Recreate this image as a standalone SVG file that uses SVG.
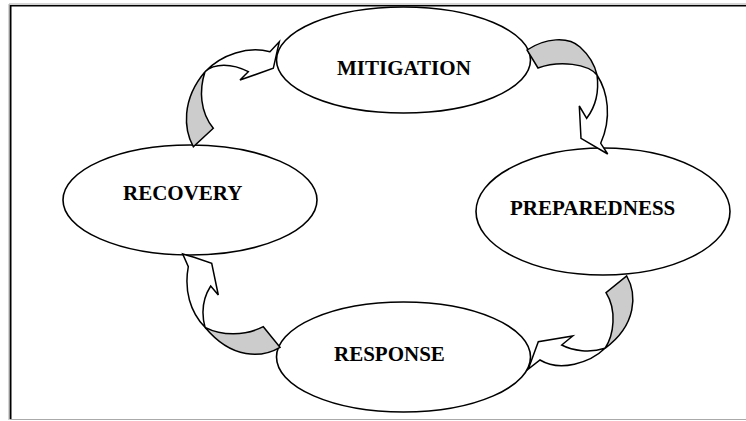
<svg xmlns="http://www.w3.org/2000/svg" width="746" height="421" viewBox="0 0 746 421">
<style>
.node ellipse{fill:#fff;stroke:#000;stroke-width:1.6}
.node text{font-family:"Liberation Serif","Times New Roman",serif;font-weight:bold;font-size:21px;fill:#000}
.gray{fill:#cccccc;stroke:#000;stroke-width:1.5;stroke-linejoin:miter}
.white{fill:#fff;stroke:#000;stroke-width:1.5;stroke-linejoin:miter}
</style>
<g id="frame">
<line x1="9" y1="4" x2="746" y2="4" stroke="#aaa" stroke-width="1"/>
<line x1="9" y1="4" x2="9" y2="420" stroke="#aaa" stroke-width="1"/>
<line x1="10" y1="5.8" x2="746" y2="5.8" stroke="#000" stroke-width="1.6"/>
<line x1="10.6" y1="5" x2="10.6" y2="419" stroke="#000" stroke-width="1.8"/>
<line x1="10" y1="419.5" x2="746" y2="419.5" stroke="#aaa" stroke-width="1"/>
</g>
<g id="mitigation" class="node">
<ellipse cx="403.5" cy="60" rx="127" ry="53"/>
<text x="337" y="75">MITIGATION</text>
</g>
<g id="preparedness" class="node">
<ellipse cx="603" cy="211.5" rx="127" ry="63.5"/>
<text x="510" y="215">PREPAREDNESS</text>
</g>
<g id="response" class="node">
<ellipse cx="403.5" cy="357" rx="127" ry="55"/>
<text x="334" y="361">RESPONSE</text>
</g>
<g id="recovery" class="node">
<ellipse cx="190" cy="200" rx="127" ry="55"/>
<text x="123" y="200">RECOVERY</text>
</g>
<g id="connectors">
<g id="arrow-recovery-mitigation">
<path class="gray" d="M193.3,146.7 C184,130 181,100 205,71.7 C199,90 200,112 213.3,128.3 Z"/>
<path class="white" d="M205,71.7 C222,54 248,46 270,51.7 L279.3,41.7 L273.3,68.3 L240,80 L248.3,71.7 C232,63 214,63 205,71.7 Z"/>
</g>
<g id="arrow-mitigation-preparedness">
<path class="gray" d="M527,50 C545,38 568,36 580,47 C590,56 595,66 597,75 C588,64 560,60 538,68 Z"/>
<path class="white" d="M597,75 C608,92 612,118 600.7,143.3 L607.7,154 L581,138.3 L579.3,106 L586.7,118.3 C596,106 599,90 597,75 Z"/>
</g>
<g id="arrow-preparedness-response">
<path class="gray" d="M626.7,276 C637,294 637,325 605,348.3 C614,335 617,310 606,292.7 Z"/>
<path class="white" d="M605,348.3 C590,363 560,372 540,360 L528.3,369 L538.3,341.7 L572.7,336 L561.7,345 C573,351 590,353 605,348.3 Z"/>
</g>
<g id="arrow-response-recovery">
<path class="gray" d="M280,347.3 C262,358 232,360 205,327.3 C222,336 245,336 263.3,326.7 Z"/>
<path class="white" d="M205,327.3 C190,312 184,290 188.3,266.7 L182.7,254 L194,257.3 L211.7,263.3 L218.3,295 L210.7,286 C203,298 201,312 205,327.3 Z"/>
</g>
</g>
</svg>
